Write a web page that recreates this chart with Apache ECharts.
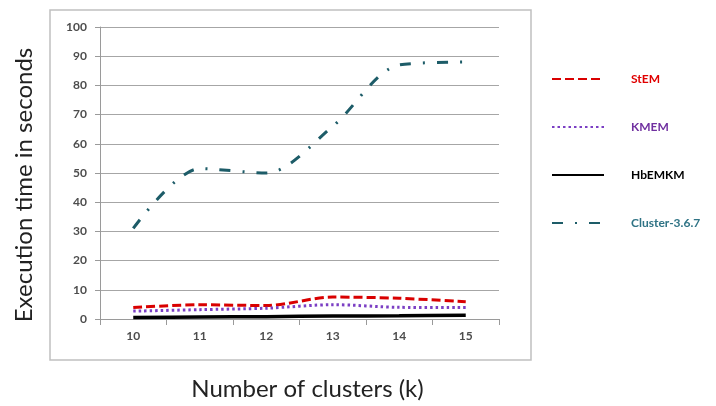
<!DOCTYPE html>
<html>
<head>
<meta charset="utf-8">
<script src="https://cdn.jsdelivr.net/npm/echarts@6/dist/echarts.min.js"></script>
<style>html,body{margin:0;padding:0;background:#fff}#c{width:716px;height:406px}</style>
</head>
<body>
<div id="c"></div>
<script>
const categories = ['10', '11', '12', '13', '14', '15'];
const stem = [3.9, 4.9, 4.6, 7.5, 7.1, 5.9];
const kmem = [2.7, 3.2, 3.7, 4.9, 4.0, 3.9];
const hbemkm = [0.5, 0.7, 0.8, 1.0, 1.1, 1.3];
const cluster = [31, 51.5, 50, 66, 87, 88];
const seriesNames = ['StEM', 'KMEM', 'HbEMKM', 'Cluster-3.6.7'];

const FONT = 'Lato';
const chart = echarts.init(document.getElementById('c'), null, {renderer: 'canvas'});
const mk = (name, data, color, width, type) => ({
  name, type: 'line', data, smooth: 0.3, showSymbol: false, symbol: 'none',
  itemStyle: {color},
  lineStyle: {color, width, type},
  z: 3
});
chart.setOption({
  animation: false,
  backgroundColor: '#fff',
  textStyle: {fontFamily: FONT},
  graphic: [{
    type: 'rect', shape: {x: 50, y: 10, width: 481, height: 350},
    style: {fill: 'none', stroke: '#c0c0c0', lineWidth: 1.5}, z: -1, silent: true
  }],
  grid: {left: 100, top: 27, right: 217, bottom: 86, containLabel: false},
  legend: {
    orient: 'vertical', left: 546, top: 68, itemWidth: 52, itemHeight: 14, itemGap: 36,
    itemStyle: {opacity: 0},
    textStyle: {fontFamily: FONT, fontSize: 12, fontWeight: 'bold', padding: [0, 0, 0, 22]},
    data: [
      {name: seriesNames[0], textStyle: {color: '#e00000'}},
      {name: seriesNames[1], textStyle: {color: '#7030a0'}},
      {name: seriesNames[2], textStyle: {color: '#000000'}},
      {name: seriesNames[3], textStyle: {color: '#2f7385'}}
    ]
  },
  xAxis: {
    type: 'category', data: categories, boundaryGap: true,
    name: 'Number of clusters (k)', nameLocation: 'middle', nameGap: 58,
    nameTextStyle: {fontFamily: FONT, fontSize: 24, color: '#222', padding: [0, 0, 0, 16]},
    axisLine: {lineStyle: {color: '#9a9a9a', width: 1}},
    axisTick: {show: true, length: 6, lineStyle: {color: '#9a9a9a'}},
    axisLabel: {fontFamily: FONT, fontSize: 12, fontWeight: 'bold', color: '#4d4d4d', margin: 11},
    splitLine: {show: false}
  },
  yAxis: {
    type: 'value', min: 0, max: 100, interval: 10,
    name: 'Execution time in seconds', nameLocation: 'middle', nameGap: 64, nameRotate: 90,
    nameTextStyle: {fontFamily: FONT, fontSize: 24, color: '#222', padding: [0, 24, 0, 0]},
    axisLine: {show: true, lineStyle: {color: '#9a9a9a', width: 1}},
    axisTick: {show: true, length: 5, lineStyle: {color: '#9a9a9a'}},
    axisLabel: {fontFamily: FONT, fontSize: 12, fontWeight: 'bold', color: '#4d4d4d', margin: 13},
    splitLine: {show: true, lineStyle: {color: '#a6a6a6', width: 1}}
  },
  series: [
    mk(seriesNames[0], stem, '#d90000', 3, [9, 4]),
    mk(seriesNames[1], kmem, '#7b3fc4', 3, [2.5, 3]),
    mk(seriesNames[2], hbemkm, '#000000', 3.5, 'solid'),
    mk(seriesNames[3], cluster, '#1d5c68', 3, [11, 12, 2, 12])
  ]
});
</script>
</body>
</html>
